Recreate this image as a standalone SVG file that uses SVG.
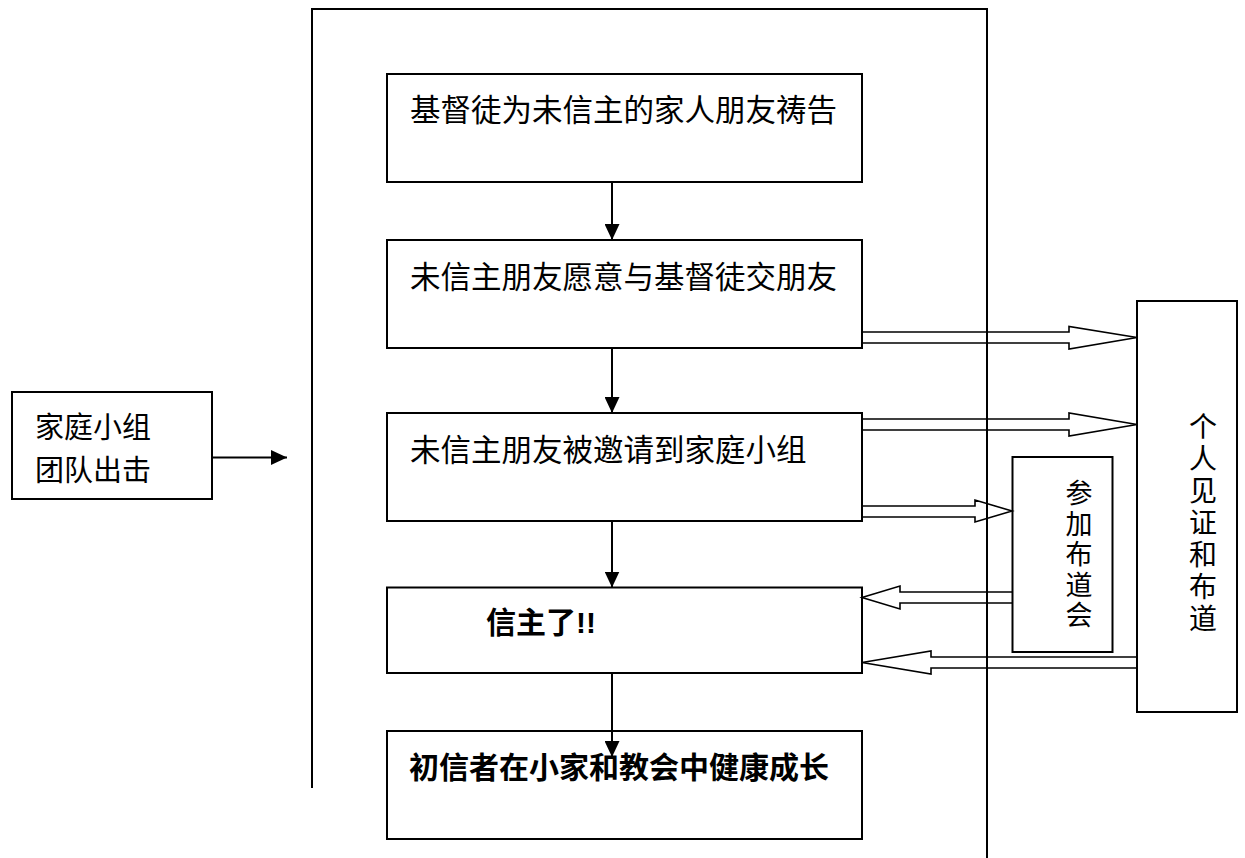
<svg xmlns="http://www.w3.org/2000/svg" width="1245" height="858" viewBox="0 0 1245 858">
<defs>
<style>
.box{fill:#fff;stroke:#000;stroke-width:2}
.ln{fill:none;stroke:#000;stroke-width:2}
.ha{fill:none;stroke:#000;stroke-width:1.6;stroke-linejoin:miter}
.t{font-family:"Liberation Sans","Noto Sans CJK SC",sans-serif;font-size:30.5px;fill:#000}
.b{font-weight:bold;font-size:30px}
</style>
<marker id="ah" viewBox="0 0 16 15" refX="16" refY="7.5" markerWidth="16" markerHeight="15" markerUnits="userSpaceOnUse" orient="auto">
<path d="M0,0 L16,7.5 L0,15 Z" fill="#000"/>
</marker>
</defs>
<rect width="1245" height="858" fill="#fff"/>
<g id="frame">
<polyline class="ln" points="312,788 312,9 987,9 987,858"/>
</g>
<g id="n1"><rect class="box" x="387" y="74" width="475" height="108"/><text class="t" x="410" y="121">基督徒为未信主的家人朋友祷告</text></g>
<g id="n2"><rect class="box" x="387" y="240" width="475" height="108"/><text class="t" x="410" y="288">未信主朋友愿意与基督徒交朋友</text></g>
<g id="n3"><rect class="box" x="387" y="413" width="475" height="108"/><text class="t" x="410" y="461">未信主朋友被邀请到家庭小组</text></g>
<g id="n4"><rect class="box" x="387" y="587.5" width="475" height="85.5"/><text class="t b" x="486" y="633">信主了!!</text></g>
<g id="n5"><rect class="box" x="387" y="731" width="475" height="108"/></g>
<g id="left"><rect class="box" x="12" y="392" width="200" height="107"/><text class="t" style="font-size:29px" x="35" y="438">家庭小组</text><text class="t" style="font-size:29px" x="35" y="481">团队出击</text></g>
<g id="meeting"><rect class="box" x="1012.5" y="457" width="100" height="195"/>
<text class="t" style="font-size:27px" text-anchor="middle"><tspan x="1079" y="503">参</tspan><tspan x="1079" y="533.5">加</tspan><tspan x="1079" y="564">布</tspan><tspan x="1079" y="594.5">道</tspan><tspan x="1079" y="625">会</tspan></text></g>
<g id="witness"><rect class="box" x="1137" y="301" width="100" height="411"/>
<text class="t" style="font-size:28px" text-anchor="middle"><tspan x="1203" y="437">个</tspan><tspan x="1203" y="469">人</tspan><tspan x="1203" y="501">见</tspan><tspan x="1203" y="533">证</tspan><tspan x="1203" y="565">和</tspan><tspan x="1203" y="597">布</tspan><tspan x="1203" y="629">道</tspan></text></g>
<g id="connectors">
<line class="ln" x1="612" y1="182" x2="612" y2="240" marker-end="url(#ah)"/>
<line class="ln" x1="612" y1="348" x2="612" y2="413" marker-end="url(#ah)"/>
<line class="ln" x1="612" y1="521" x2="612" y2="587.5" marker-end="url(#ah)"/>
<line class="ln" x1="612" y1="673" x2="612" y2="757" marker-end="url(#ah)"/>
<line class="ln" x1="212" y1="457.5" x2="287" y2="457.5" marker-end="url(#ah)"/>
<polyline class="ha" points="862,332 1069,332 1069,326.5 1137,337.5 1069,349 1069,343 862,343"/>
<polyline class="ha" points="862,419 1069,419 1069,413 1137,424.5 1069,436 1069,430 862,430"/>
<polyline class="ha" points="862,506 975,506 975,500 1012,511 975,522 975,517 862,517"/>
<polyline class="ha" points="1012,592 900,592 900,586 862,597.5 900,609 900,603 1012,603"/>
<polyline class="ha" points="1137,657 931,657 931,651 862,662.5 931,674 931,668 1137,668"/>
</g>
<g id="n5text"><text class="t b" x="409" y="778">初信者在小家和教会中健康成长</text></g>
</svg>
